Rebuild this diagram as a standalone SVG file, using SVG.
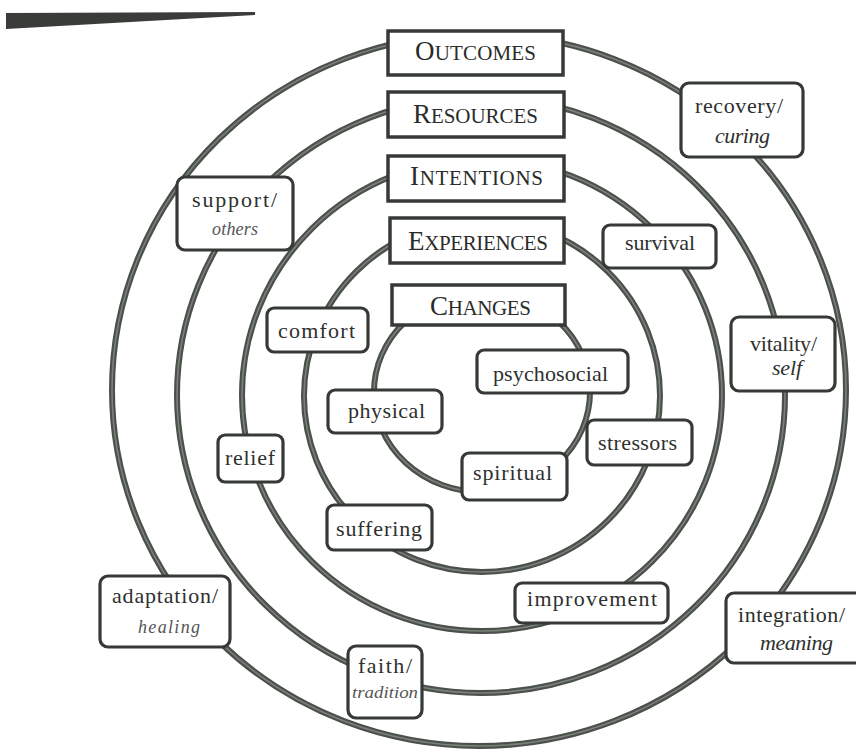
<svg xmlns="http://www.w3.org/2000/svg" width="856" height="752" viewBox="0 0 856 752">
<style>
  .ring{fill:none;stroke:#4b504b;stroke-width:6}
  .ringin{fill:none;stroke:#7b807b;stroke-width:1.6}
  .hbox{fill:#fff;stroke:#363a36;stroke-width:3.5}
  .lbox{fill:#fff;stroke:#363a36;stroke-width:3.2}
  .t{font-family:"Liberation Serif","Times New Roman",serif;font-size:22px;fill:#2e302e}
  .i{font-style:italic}
  .sm{font-size:18px;fill:#555}
  .xs{font-size:16px;fill:#555}
  .h{font-family:"Liberation Serif","Times New Roman",serif;font-size:21px;fill:#2a2c2a}
  .cap{font-size:27px}
</style>
<rect width="856" height="752" fill="#fff"/>
<polygon points="6,13 255,12 255,15 6,29" fill="#3a3c3a"/>
<g id="connectors">
  <ellipse class="ring" cx="479" cy="390" rx="367" ry="356"/>
  <ellipse class="ring" cx="481" cy="395" rx="304" ry="298"/>
  <ellipse class="ring" cx="482" cy="395" rx="240" ry="236"/>
  <ellipse class="ring" cx="482" cy="396" rx="178" ry="176"/>
  <ellipse class="ring" cx="482" cy="392" rx="108" ry="100"/>
  <ellipse class="ringin" cx="479" cy="390" rx="367" ry="356"/>
  <ellipse class="ringin" cx="481" cy="395" rx="304" ry="298"/>
  <ellipse class="ringin" cx="482" cy="395" rx="240" ry="236"/>
  <ellipse class="ringin" cx="482" cy="396" rx="178" ry="176"/>
  <ellipse class="ringin" cx="482" cy="392" rx="108" ry="100"/>
</g>
<g id="outcomes"><rect class="hbox" x="388" y="31" width="175" height="44"/><text class="h" x="415" y="60" textLength="121" lengthAdjust="spacing"><tspan class="cap">O</tspan>UTCOMES</text></g>
<g id="resources"><rect class="hbox" x="388" y="92" width="176" height="45"/><text class="h" x="413" y="123" textLength="125" lengthAdjust="spacing"><tspan class="cap">R</tspan>ESOURCES</text></g>
<g id="intentions"><rect class="hbox" x="388" y="156" width="176" height="45"/><text class="h" x="410" y="185" textLength="133" lengthAdjust="spacing"><tspan class="cap">I</tspan>NTENTIONS</text></g>
<g id="experiences"><rect class="hbox" x="390" y="218" width="174" height="45"/><text class="h" x="408" y="250" textLength="140" lengthAdjust="spacing"><tspan class="cap">E</tspan>XPERIENCES</text></g>
<g id="changes"><rect class="hbox" x="392" y="285" width="173" height="40"/><text class="h" x="430" y="315" textLength="101" lengthAdjust="spacing"><tspan class="cap">C</tspan>HANGES</text></g>

<g id="recovery"><rect class="lbox" x="681" y="83" width="122" height="74" rx="8"/><text class="t" x="695" y="113" textLength="88" lengthAdjust="spacing">recovery/</text><text class="t i" x="715" y="143" textLength="55" lengthAdjust="spacing">curing</text></g>
<g id="support"><rect class="lbox" x="177" y="177" width="116" height="73" rx="8"/><text class="t" x="192" y="207" textLength="85" lengthAdjust="spacing">support/</text><text class="t i sm" x="212" y="235" textLength="46" lengthAdjust="spacing">others</text></g>
<g id="survival"><rect class="lbox" x="603" y="225" width="113" height="43" rx="7"/><text class="t" x="625" y="250" textLength="70" lengthAdjust="spacing">survival</text></g>
<g id="vitality"><rect class="lbox" x="731" y="317" width="104" height="74" rx="8"/><text class="t" x="750" y="351" textLength="67" lengthAdjust="spacing">vitality/</text><text class="t i" x="772" y="375" textLength="30" lengthAdjust="spacing">self</text></g>
<g id="comfort"><rect class="lbox" x="267" y="308" width="101" height="44" rx="7"/><text class="t" x="278" y="338" textLength="77" lengthAdjust="spacing">comfort</text></g>
<g id="psychosocial"><rect class="lbox" x="477" y="350" width="151" height="43" rx="7"/><text class="t" x="493" y="381" textLength="115" lengthAdjust="spacing">psychosocial</text></g>
<g id="physical"><rect class="lbox" x="328" y="390" width="114" height="43" rx="7"/><text class="t" x="348" y="418" textLength="77" lengthAdjust="spacing">physical</text></g>
<g id="stressors"><rect class="lbox" x="587" y="420" width="105" height="45" rx="7"/><text class="t" x="598" y="450" textLength="79" lengthAdjust="spacing">stressors</text></g>
<g id="relief"><rect class="lbox" x="218" y="435" width="65" height="47" rx="7"/><text class="t" x="225" y="465" textLength="50" lengthAdjust="spacing">relief</text></g>
<g id="spiritual"><rect class="lbox" x="462" y="453" width="105" height="47" rx="7"/><text class="t" x="473" y="480" textLength="79" lengthAdjust="spacing">spiritual</text></g>
<g id="suffering"><rect class="lbox" x="327" y="505" width="105" height="45" rx="7"/><text class="t" x="336" y="536" textLength="86" lengthAdjust="spacing">suffering</text></g>
<g id="improvement"><rect class="lbox" x="515" y="583" width="153" height="40" rx="7"/><text class="t" x="527" y="606" textLength="130" lengthAdjust="spacing">improvement</text></g>
<g id="adaptation"><rect class="lbox" x="100" y="576" width="130" height="71" rx="8"/><text class="t" x="112" y="603" textLength="106" lengthAdjust="spacing">adaptation/</text><text class="t i sm" x="138" y="633" textLength="62" lengthAdjust="spacing">healing</text></g>
<g id="integration"><rect class="lbox" x="726" y="593" width="140" height="70" rx="8"/><text class="t" x="738" y="622" textLength="107" lengthAdjust="spacing">integration/</text><text class="t i" x="760" y="650" textLength="73" lengthAdjust="spacing">meaning</text></g>
<g id="faith"><rect class="lbox" x="348" y="646" width="74" height="72" rx="8"/><text class="t" x="358" y="673" textLength="54" lengthAdjust="spacing">faith/</text><text class="t i xs" x="352" y="698" textLength="66" lengthAdjust="spacingAndGlyphs">tradition</text></g>
</svg>
